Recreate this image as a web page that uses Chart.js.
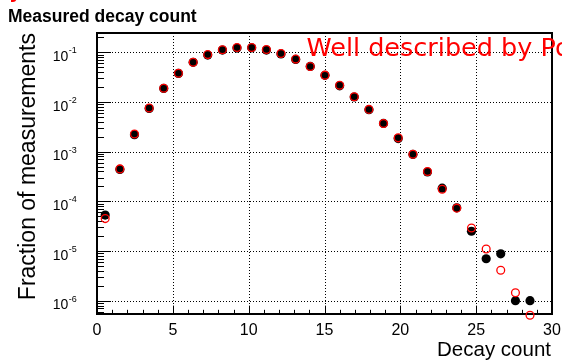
<!DOCTYPE html>
<html lang="en">
  <head>
    <meta charset="utf-8" />
    <title>Measured decay count</title>
    <style>
      body {
        margin: 0;
        background: #fff;
      }
    </style>
  </head>
  <body>
    <canvas id="decay-chart" width="562" height="360"></canvas>

    <script src="https://cdn.jsdelivr.net/npm/chart.js"></script>
    <script>
      // values
      const decayCount = [0.54, 1.51, 2.47, 3.44, 4.4, 5.37, 6.34, 7.3, 8.27, 9.23, 10.2, 11.17, 12.13, 13.1, 14.06, 15.03, 16.0, 16.96, 17.93, 18.89, 19.86, 20.83, 21.79, 22.76, 23.72, 24.69, 25.66, 26.62, 27.59, 28.55];
      const measured = [5.3e-5, 4.4e-4, 2.2e-3, 7.4e-3, 0.0188, 0.0377, 0.063, 0.088, 0.111, 0.122, 0.123, 0.111, 0.093, 0.072, 0.052, 0.0345, 0.0212, 0.0126, 0.007, 0.0037, 0.00184, 8.8e-4, 3.9e-4, 1.84e-4, 7.4e-5, 2.5e-5, 7e-6, 8.8e-6, 1.0e-6, 1.0e-6];
      const poisson = [4.5e-5, 4.5e-4, 2.27e-3, 7.6e-3, 0.0189, 0.0378, 0.063, 0.09, 0.113, 0.125, 0.125, 0.114, 0.095, 0.073, 0.052, 0.0347, 0.0217, 0.0128, 0.0071, 0.0037, 0.0019, 8.9e-4, 4.0e-4, 1.75e-4, 7.3e-5, 2.9e-5, 1.1e-5, 4.1e-6, 1.45e-6, 5.1e-7];
      const xTickLabels = ["0", "5", "10", "15", "20", "25", "30"];
      const yTickExponents = [-1, -2, -3, -4, -5, -6];

      const labelFont = "'Liberation Sans', Arial, sans-serif";

      // ROOT-like frame, dotted grid, inward ticks and text
      const rootStyle = {
        id: "rootStyle",
        beforeDatasetsDraw(chart) {
          const { ctx, chartArea: a, scales } = chart;
          const xs = scales.x, ys = scales.y;
          ctx.save();

          // dotted grid
          ctx.strokeStyle = "#000";
          ctx.lineWidth = 1;
          ctx.setLineDash([1, 2]);
          xTickLabels.forEach((t) => {
            const v = Number(t);
            if (v <= xs.min || v >= xs.max) return;
            const px = Math.round(xs.getPixelForValue(v)) + 0.5;
            ctx.beginPath();
            ctx.moveTo(px, a.top);
            ctx.lineTo(px, a.bottom);
            ctx.stroke();
          });
          yTickExponents.forEach((e) => {
            const py = Math.round(ys.getPixelForValue(Math.pow(10, e))) + 0.5;
            ctx.beginPath();
            ctx.moveTo(a.left, py);
            ctx.lineTo(a.right, py);
            ctx.stroke();
          });
          ctx.setLineDash([]);

          // x ticks, major every 5, minor every 1
          for (let v = 0; v <= 30; v++) {
            const px = Math.round(xs.getPixelForValue(v)) + 0.5;
            const len = v % 5 === 0 ? 8.4 : 4.2;
            ctx.beginPath();
            ctx.moveTo(px, a.bottom);
            ctx.lineTo(px, a.bottom - len);
            ctx.stroke();
          }

          // y ticks on the log axis
          for (let e = -7; e <= 0; e++) {
            for (let m = 1; m <= 9; m++) {
              const v = m * Math.pow(10, e);
              if (v < ys.min || v > ys.max) continue;
              const py = Math.round(ys.getPixelForValue(v)) + 0.5;
              const len = m === 1 ? 14 : 7;
              ctx.beginPath();
              ctx.moveTo(a.left, py);
              ctx.lineTo(a.left + len, py);
              ctx.stroke();
            }
          }

          // frame
          ctx.lineWidth = 2;
          ctx.strokeRect(a.left, a.top, a.right - a.left, a.bottom - a.top);
          ctx.restore();
        },
        afterDraw(chart) {
          const { ctx, chartArea: a, scales } = chart;
          const xs = scales.x, ys = scales.y;
          ctx.save();
          ctx.fillStyle = "#000";

          // x tick labels
          ctx.font = "16px " + labelFont;
          ctx.textAlign = "center";
          ctx.textBaseline = "alphabetic";
          xTickLabels.forEach((t) => {
            ctx.fillText(t, xs.getPixelForValue(Number(t)), 334.5);
          });

          // y tick labels 10^e
          yTickExponents.forEach((e) => {
            const py = ys.getPixelForValue(Math.pow(10, e));
            ctx.font = "14px " + labelFont;
            ctx.textAlign = "right";
            ctx.fillText("10", 68.3, py + 8.5);
            ctx.font = "9px " + labelFont;
            ctx.textAlign = "left";
            ctx.fillText("-" + Math.abs(e), 68.8, py + 1);
          });

          // axis titles
          ctx.font = "20.5px " + labelFont;
          ctx.textAlign = "right";
          ctx.fillText("Decay count", 551, 356);

          ctx.save();
          ctx.translate(35, 33);
          ctx.rotate(-Math.PI / 2);
          ctx.font = "23px " + labelFont;
          ctx.textAlign = "right";
          ctx.fillText("Fraction of measurements", 0, 0);
          ctx.restore();

          // title
          ctx.font = "bold 17.5px " + labelFont;
          ctx.textAlign = "left";
          ctx.fillText("Measured decay count", 8, 22);

          // red annotation
          ctx.fillStyle = "#ff0000";
          ctx.font = "25.5px 'DejaVu Sans', sans-serif";
          ctx.fillText("Well described by Poisson", 306.5, 55.7);
          ctx.fillText("y", 9, -3);

          ctx.restore();
        },
      };

      const context = document.getElementById("decay-chart").getContext("2d");
      const myChart = new Chart(context, {
        type: "scatter",
        data: {
          datasets: [
            {
              label: "Poisson",
              data: decayCount.map((x, i) => ({ x: x, y: poisson[i] })),
              pointStyle: "circle",
              pointRadius: 3.9,
              pointBorderWidth: 1.3,
              pointBorderColor: "#ff0000",
              pointBackgroundColor: "rgba(0,0,0,0)",
              clip: false,
            },
            {
              label: "Measured",
              data: decayCount.map((x, i) => ({ x: x, y: measured[i] })),
              pointStyle: "circle",
              pointRadius: 4.6,
              pointBorderWidth: 0,
              pointBackgroundColor: "#000",
              pointBorderColor: "#000",
              clip: false,
            },
          ],
        },
        options: {
          responsive: false,
          animation: false,
          devicePixelRatio: 1,
          layout: {
            autoPadding: false,
            padding: { left: 97, right: 10, top: 33, bottom: 46 },
          },
          plugins: {
            legend: { display: false },
            tooltip: { enabled: false },
          },
          scales: {
            x: { type: "linear", min: 0, max: 30, display: false },
            y: { type: "logarithmic", min: 5.4e-7, max: 0.245, display: false },
          },
        },
        plugins: [rootStyle],
      });
    </script>
  </body>
</html>
